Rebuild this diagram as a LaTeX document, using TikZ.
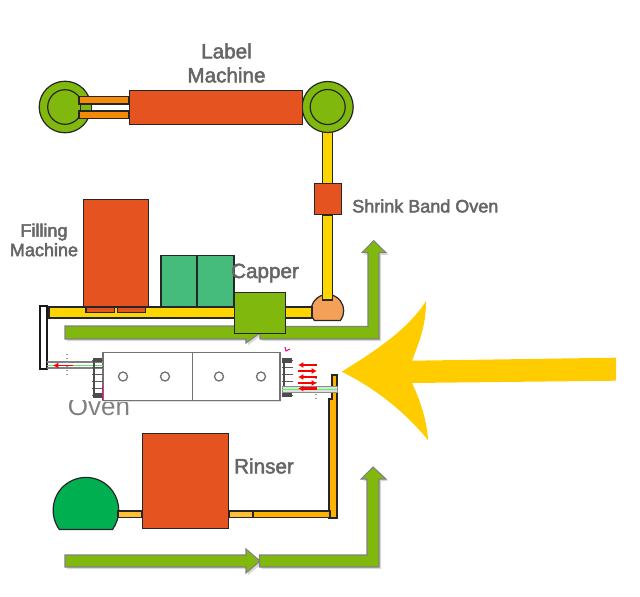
\documentclass[tikz,border=0pt]{standalone}
\usepackage{fontspec}
\setmainfont{Liberation Sans}
\usetikzlibrary{arrows.meta}
\newcommand\strokeon{\special{pdf:code 2 Tr 0.35 w}}
\newcommand\strokeoff{\special{pdf:code 0 Tr 1 w}}
\newcommand\stk[1]{\strokeon #1\strokeoff}
\definecolor{orrd}{HTML}{E55420}
\definecolor{grn}{HTML}{80B80E}
\definecolor{yel}{HTML}{FFD500}
\definecolor{org}{HTML}{F58A07}
\definecolor{amb}{HTML}{FFB300}
\definecolor{lamb}{HTML}{FFC035}
\definecolor{sea}{HTML}{45BC7C}
\definecolor{emer}{HTML}{00B050}
\definecolor{peach}{HTML}{F4A058}
\definecolor{bigy}{HTML}{FFCC00}
\definecolor{txt}{HTML}{666666}
\tikzset{
  part/.style={draw=black!85,line width=0.9pt},
  box/.style={part,inner sep=0pt,outer sep=0pt},
  flow/.style={fill=grn,draw=black!50,line width=0.8pt,line join=miter,
    preaction={draw=none,fill=black!15,transform canvas={xshift=1.6pt,yshift=-1.6pt}}},
  lbl/.style={text=txt,font=\fontsize{13.5}{14.6}\selectfont,align=center,inner sep=0pt},
  lblbig/.style={text=txt,font=\fontsize{15.5}{18}\selectfont,align=center,inner sep=0pt},
  thinline/.style={draw=black!55,line width=0.5pt},
  redarrow/.style={draw=red,line width=1.3pt,-{Latex[length=4pt,width=4.5pt]}},
}
\begin{document}
\begin{tikzpicture}[x=0.75pt,y=-0.75pt]
\useasboundingbox (0,0) rectangle (640,597);
% label machine
\draw[part,fill=grn] (65,107) circle (25.8);
\draw[part,fill=grn] (65,107) circle (17.3);
\fill[grn,draw=black!85,line width=0.5pt] (80,104.5) rectangle (91,110.5);
\draw[part,fill=org] (79,96.5) rectangle (129,104);
\draw[part,fill=org] (79,111) rectangle (129,118.5);
\draw[part,fill=yel] (322.7,130) rectangle (332.7,184);
\draw[part,fill=grn] (327.7,107) circle (25.5);
\draw[part,fill=grn] (327.7,107) circle (17.5);
\node[box,fill=orrd,minimum width=130pt,minimum height=25.8pt] (labelm) at (216,107.5) {};
\node[lblbig] (labeltxt) at (226.5,63) {\stk{Label}\\\stk{Machine}};
% shrink band oven
\draw[part,fill=peach] (314.4,320.5) arc[start angle=-217,end angle=37,radius=16.3] -- cycle;
\draw[part,fill=yel] (322.7,215) rectangle (332.7,300);
\node[box,fill=orrd,minimum width=20.2pt,minimum height=23.6pt] (shrink) at (327.7,199) {};
\node[lbl,anchor=west] (shrinktxt) at (352,206) {\stk{Shrink Band Oven}};
% filling
\node[lbl] (filltxt) at (44,240) {\stk{Filling}\\\stk{Machine}};
\draw[part,fill=yel] (49,307) rectangle (312,318);
\draw[part,fill=orrd] (86,307) rectangle (114.7,312.7);
\draw[part,fill=orrd] (117.3,307) rectangle (145.7,312.7);
\node[box,fill=orrd,minimum width=48.8pt,minimum height=80.6pt] (fillm) at (116,253.2) {};
\draw[part,fill=sea] (161,255.7) rectangle (197,307);
\draw[part,fill=sea] (197,255.7) rectangle (234,307);
% white tall bar
\draw[line width=1pt,draw=black!90,fill=white] (40,306) rectangle (47,369);
% flows upper
\draw[flow] (65,326) -- (246,326) -- (246,321) -- (260,333) -- (246,343) -- (246,339) -- (65,339) -- cycle;
\draw[flow] (260,326.5) -- (368,326.5) -- (368,252.7) -- (362,252.7) -- (373.7,240.7) -- (386,252.7) -- (379,252.7) -- (379,339) -- (260,339) -- cycle;
% capper
\node[box,fill=grn,minimum width=38.6pt,minimum height=31.2pt] (capper) at (260,313) {};
\node[lblbig] (cappertxt) at (265,273) {\stk{Capper}};
% oven
\node[text=black!50,font=\fontsize{19.5}{20}\selectfont,inner sep=0pt,anchor=base] (oventxt) at (99,415) {Oven};
\fill[white] (60,388) rectangle (103,399.5);
\node[draw=black!55,line width=0.8pt,fill=white,minimum width=132.75pt,minimum height=35.5pt,inner sep=0pt,
  preaction={draw=none,fill=black!12,transform canvas={xshift=1pt,yshift=-1pt}}] (oven) at (191.5,376.5) {};
\draw[thinline] (192,353) -- (192,400);
\foreach \x in {123,165,219,261}{\draw[black!55,line width=1pt] (\x,376.5) circle (4.5);}
\draw[black!50,line width=0.8pt] (47,362) -- (103,362);
\draw[green!80!black!60,line width=0.5pt] (47,365) -- (103,365);
\draw[black!50,line width=0.8pt] (47,368) -- (103,368);
\foreach \y in {360,367,...,395}{\draw[black!65,line width=0.6pt] (92,\y) -- (103,\y);\draw[black!65,line width=0.6pt] (282,\y) -- (293,\y);}
\draw[black!70,line width=0.8pt] (94,358) -- (94,397);
\draw[black!70,line width=0.8pt] (284,358) -- (284,397);
\fill[black!70] (95,358) rectangle (102,362);
\fill[black!70] (93,393) rectangle (102,398);
\fill[black!70] (282,358) rectangle (292,363);
\fill[black!70] (282,393) rectangle (292,397);
\draw[magenta,line width=0.5pt] (102,386) -- (102,400);
\draw[magenta,line width=0.8pt] (285,347) -- (286,351) -- (290,349);
\draw[black!40,dotted,line width=1pt] (67,354) -- (67,377);
\draw[black!40,dotted,line width=1pt] (316,378) -- (316,400);
% amber vertical
\draw[part,fill=amb] (332,375) -- (337,375) -- (337,518) -- (329,518) -- (329,399) -- (332,399) -- cycle;
\draw[black!45,fill=black!12,line width=0.4pt] (282,386) rectangle (337,392);
\draw[green!70!white,line width=0.7pt] (282,389) -- (337,389);
\draw[redarrow] (73,365.5) -- (53,365.5);
\draw[redarrow] (317,365) -- (298,365);
\draw[redarrow] (298,371) -- (317,371);
\draw[redarrow] (317,377) -- (298,377);
\draw[redarrow] (298,383) -- (317,383);
\draw[redarrow,line width=2.2pt] (317,388.5) -- (298,388.5);
% rinser
\draw[part,fill=emer] (59.4,529.5) arc[start angle=-216,end angle=36,radius=32.8] -- cycle;
\draw[part,fill=lamb] (118,511) rectangle (142,517.7);
\draw[part,fill=lamb] (229,511) rectangle (253,517.7);
\draw[part,fill=amb] (253,511) rectangle (330,517.7);
\node[box,fill=orrd,minimum width=65pt,minimum height=71.6pt] (rinser) at (185.5,481) {};
\node[lblbig] (rinsertxt) at (264,466) {\stk{Rinser}};
% lower flows
\draw[flow] (65,555) -- (246,555) -- (246,549) -- (260,561) -- (246,573) -- (246,567) -- (65,567) -- cycle;
\draw[flow] (259.5,555) -- (367,555) -- (367,479) -- (361,479) -- (373,467) -- (386,479) -- (379,479) -- (379,567) -- (259.5,567) -- cycle;
% big yellow arrow
\fill[bigy] (341.7,371.7) .. controls (372,353) and (408,330) .. (426,301) .. controls (426,325) and (420,340) .. (412,360.7) -- (616,357.7) -- (616,380.7) -- (412,383) .. controls (420,400) and (427,420) .. (428,440) .. controls (405,412) and (375,388) .. (341.7,371.7) -- cycle;
\end{tikzpicture}
\end{document}
